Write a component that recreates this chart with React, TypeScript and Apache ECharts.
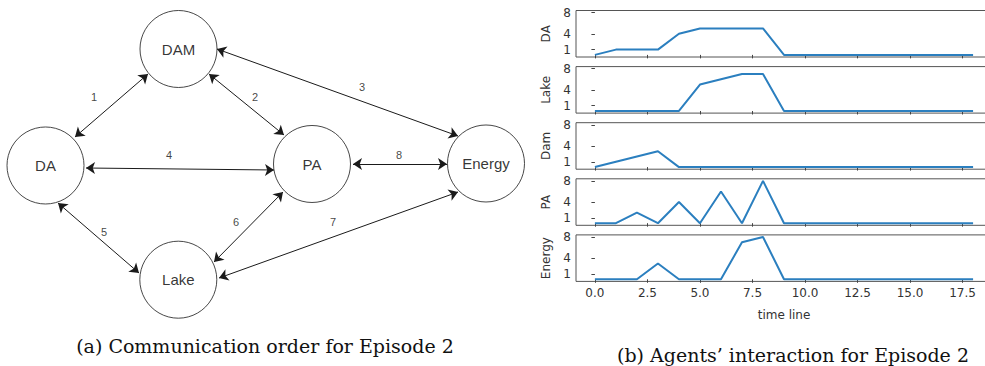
import React, { useEffect, useRef } from "react";
import * as echarts from "echarts";

// ---- line panels data (time steps 0..18) ----
const timeSteps = [0, 1, 2, 3, 4, 5, 6, 7, 8, 9, 10, 11, 12, 13, 14, 15, 16, 17, 18];
const panelNames = ["DA", "Lake", "Dam", "PA", "Energy"];
const daValues = [0, 1, 1, 1, 4, 5, 5, 5, 5, 0, 0, 0, 0, 0, 0, 0, 0, 0, 0];
const lakeValues = [0, 0, 0, 0, 0, 5, 6, 7, 7, 0, 0, 0, 0, 0, 0, 0, 0, 0, 0];
const damValues = [0, 1, 2, 3, 0, 0, 0, 0, 0, 0, 0, 0, 0, 0, 0, 0, 0, 0, 0];
const paValues = [0, 0, 2, 0, 4, 0, 6, 0, 8, 0, 0, 0, 0, 0, 0, 0, 0, 0, 0];
const energyValues = [0, 0, 0, 3, 0, 0, 0, 7, 8, 0, 0, 0, 0, 0, 0, 0, 0, 0, 0];
const yTicks = [1, 4, 8];
const xTicks = [0, 2.5, 5, 7.5, 10, 12.5, 15, 17.5];

// ---- communication diagram data ----
const nodeNames = ["DAM", "DA", "PA", "Energy", "Lake"];
const nodePositions = [
  [178.5, 49],
  [45.5, 165.5],
  [312, 164],
  [486, 163.5],
  [178.3, 279.7],
];
const edgeLabels = ["1", "2", "3", "4", "5", "6", "7", "8"];
const edgeEnds = [
  [[75, 137], [148, 74]],
  [[209, 74], [284, 135]],
  [[217, 49], [458, 136]],
  [[86, 168], [274, 170]],
  [[58, 203], [139, 273]],
  [[283, 192], [214, 262]],
  [[458, 192], [219, 278]],
  [[353, 164], [447, 164]],
];
const edgeLabelPositions = [
  [94, 97], [255, 97], [362, 87], [169, 155],
  [104, 232], [236, 222], [333, 222], [399, 155],
];

const captionA = "(a) Communication order for Episode 2";
const captionB = "(b) Agents\u2019 interaction for Episode 2";

export default function App() {
  const ref = useRef<HTMLDivElement>(null);
  useEffect(() => {
    if (!ref.current) return;
    const chart = echarts.init(ref.current, undefined, { renderer: "svg" });
    const allValues = [daValues, lakeValues, damValues, paValues, energyValues];
    const panelTop = 10.5;
    const panelStep = 56.1;
    const panelH = 46.5;
    const grids: any[] = [];
    const xAxes: any[] = [];
    const yAxes: any[] = [];
    const series: any[] = [];
    const tickColor = "#444";
    const labelColor = "#333";
    allValues.forEach((vals, i) => {
      const last = i === allValues.length - 1;
      grids.push({
        left: 576,
        top: panelTop + i * panelStep,
        width: 416,
        height: panelH,
        show: true,
        borderColor: "#555",
        borderWidth: 1,
        backgroundColor: "transparent",
        containLabel: false,
        outerBoundsMode: "none",
      });
      xAxes.push({
        type: "value",
        gridIndex: i,
        min: -0.9,
        max: 18.9,
        axisLine: { show: false },
        splitLine: { show: false },
        axisTick: { show: true, length: 3.5, lineStyle: { color: tickColor }, customValues: xTicks },
        axisLabel: {
          show: last,
          customValues: xTicks,
          formatter: (v: number) => v.toFixed(1),
          fontSize: 12,
          color: labelColor,
          fontFamily: "DejaVu Sans",
          margin: 6,
        },
        name: last ? "time line" : "",
        nameLocation: "middle",
        nameGap: 28,
        nameTextStyle: { fontSize: 12, color: labelColor, fontFamily: "DejaVu Sans" },
      });
      yAxes.push({
        type: "value",
        gridIndex: i,
        min: -0.4,
        max: 8.4,
        axisLine: { show: false },
        splitLine: { show: false },
        axisTick: { show: true, length: 3.5, lineStyle: { color: tickColor }, customValues: yTicks },
        axisLabel: {
          customValues: yTicks,
          fontSize: 12,
          color: labelColor,
          fontFamily: "DejaVu Sans",
          margin: 5,
        },
        name: panelNames[i],
        nameLocation: "middle",
        nameRotate: 90,
        nameGap: 24,
        nameTextStyle: { fontSize: 12, color: labelColor, fontFamily: "DejaVu Sans" },
      });
      series.push({
        type: "line",
        xAxisIndex: i,
        yAxisIndex: i,
        data: vals.map((v, k) => [timeSteps[k], v]),
        symbol: "none",
        lineStyle: { color: "#2b7fbf", width: 2 },
        itemStyle: { color: "#2b7fbf" },
      });
    });

    // diagram coordinate grid (pixel-like units)
    grids.push({ left: 0, top: 0, width: 985, height: 366, show: false, outerBoundsMode: "none" });
    xAxes.push({ type: "value", gridIndex: 5, min: 0, max: 985, show: false });
    yAxes.push({ type: "value", gridIndex: 5, min: 0, max: 366, inverse: true, show: false });

    series.push({
      type: "lines",
      coordinateSystem: "cartesian2d",
      xAxisIndex: 5,
      yAxisIndex: 5,
      symbol: ["arrow", "arrow"],
      symbolSize: 9,
      lineStyle: { color: "#1a1a1a", width: 1, opacity: 1 },
      data: edgeEnds.map((c) => ({ coords: c })),
      z: 2,
    });
    series.push({
      type: "scatter",
      xAxisIndex: 5,
      yAxisIndex: 5,
      symbol: "circle",
      symbolSize: 77,
      itemStyle: { color: "#fff", borderColor: "#1a1a1a", borderWidth: 1 },
      label: {
        show: true,
        position: "inside",
        formatter: (p: any) => p.name,
        fontSize: 15,
        color: "#000",
        textBorderWidth: 0,
        fontFamily: "Liberation Sans",
      },
      data: nodeNames.map((n, k) => ({ name: n, value: nodePositions[k] })),
      z: 3,
    });
    series.push({
      type: "scatter",
      xAxisIndex: 5,
      yAxisIndex: 5,
      symbol: "circle",
      symbolSize: 1,
      itemStyle: { color: "transparent" },
      label: {
        show: true,
        position: "inside",
        formatter: (p: any) => p.name,
        fontSize: 11,
        color: "#111",
        textBorderWidth: 0,
        fontFamily: "Liberation Sans",
      },
      data: edgeLabels.map((n, k) => ({ name: n, value: edgeLabelPositions[k] })),
      z: 4,
    });

    chart.setOption({
      animation: false,
      grid: grids,
      xAxis: xAxes,
      yAxis: yAxes,
      series,
      graphic: [
        {
          type: "text",
          x: 265,
          y: 346,
          style: {
            text: captionA,
            fontFamily: "DejaVu Serif",
            fontSize: 19,
            fill: "#111",
            textAlign: "center",
            textVerticalAlign: "middle",
          },
        },
        {
          type: "text",
          x: 793,
          y: 355,
          style: {
            text: captionB,
            fontFamily: "DejaVu Serif",
            fontSize: 19,
            fill: "#111",
            textAlign: "center",
            textVerticalAlign: "middle",
          },
        },
      ],
    });
    return () => chart.dispose();
  }, []);
  return (
    <div
      ref={ref}
      style={{ position: "fixed", left: 0, top: 0, width: 985, height: 366, background: "#fff" }}
    />
  );
}
